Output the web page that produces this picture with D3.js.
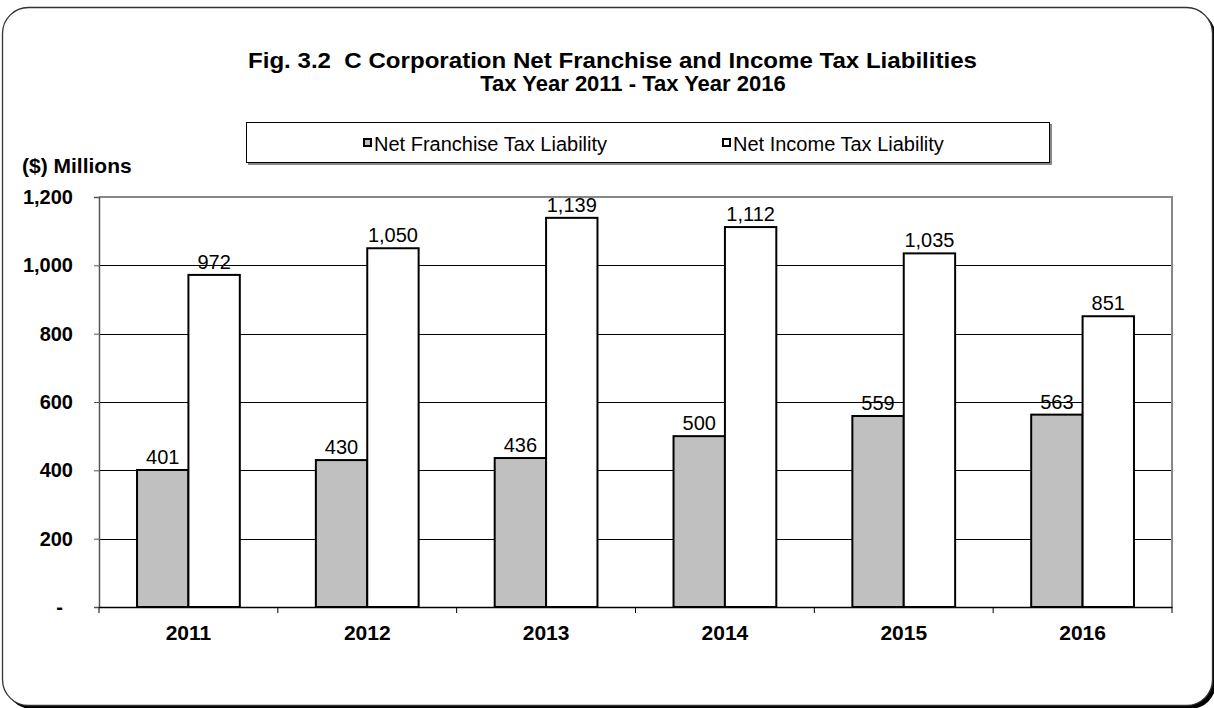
<!DOCTYPE html>
<html><head><meta charset="utf-8">
<script src="https://cdn.jsdelivr.net/npm/d3@7"></script>
<style>
html,body{margin:0;padding:0;background:#fff;}
svg{display:block;font-family:"Liberation Sans",Arial,sans-serif;}
</style></head>
<body>
<svg id="c" width="1214" height="708"></svg>
<script>
const years = ["2011","2012","2013","2014","2015","2016"];
const franchise = [401,430,436,500,559,563];
const income = [972,1050,1139,1112,1035,851];
const seriesNames = ["Net Franchise Tax Liability","Net Income Tax Liability"];
const seriesColors = ["#c0c0c0","#ffffff"];
const yTicks = [0,200,400,600,800,1000,1200];
const titleLines = ["Fig. 3.2  C Corporation Net Franchise and Income Tax Liabilities","Tax Year 2011 - Tax Year 2016"];

const FONT = "'Liberation Sans',Arial,sans-serif";
const svg = d3.select("#c");
// outer frame with shadow
svg.append("rect").attr("x",6).attr("y",11).attr("width",1210).attr("height",698).attr("rx",26)
  .attr("fill","#000");
svg.append("rect").attr("x",2.5).attr("y",7.5).attr("width",1210).attr("height",698).attr("rx",26)
  .attr("fill","#fff").attr("stroke","#333").attr("stroke-width",1.3);

// title
svg.append("text").attr("x",612.5).attr("y",68).attr("text-anchor","middle").attr("xml:space","preserve")
  .attr("font-weight","bold").attr("font-size",22.5).attr("textLength",729).attr("lengthAdjust","spacingAndGlyphs")
  .text(titleLines[0]);
svg.append("text").attr("x",633).attr("y",91).attr("text-anchor","middle")
  .attr("font-weight","bold").attr("font-size",22).text(titleLines[1]);

// legend
const lg = svg.append("g");
lg.append("rect").attr("x",248).attr("y",124).attr("width",804).attr("height",41).attr("fill","#888");
lg.append("rect").attr("x",246.5).attr("y",122.5).attr("width",803).attr("height",40).attr("fill","#fff").attr("stroke","#000").attr("stroke-width",1);
const legX = [363,722];
seriesNames.forEach((n,i)=>{
  lg.append("rect").attr("x",legX[i]+1).attr("y",139).attr("width",7).attr("height",7)
    .attr("fill",seriesColors[i]).attr("stroke","#000").attr("stroke-width",2);
  lg.append("text").attr("x",legX[i]+11).attr("y",151).attr("font-size",20).text(n);
});

// plot
const m = {l:99, r:1172, t:197, b:607};
const x0 = d3.scaleBand().domain(years).range([m.l,m.r]).paddingInner(0).paddingOuter(0);
const inner = d3.scaleBand().domain([0,1]).range([0,x0.bandwidth()]).paddingInner(0).paddingOuter(0.74);
const y = d3.scaleLinear().domain([0,1200]).range([m.b,m.t]);

svg.append("text").attr("x",22).attr("y",173).attr("font-weight","bold").attr("font-size",21).text("($) Millions");

// gridlines
svg.append("g").selectAll("line").data(yTicks.filter(d=>d>0 && d<1200)).join("line")
  .attr("x1",m.l).attr("x2",m.r).attr("y1",d=>Math.round(y(d))+0.5).attr("y2",d=>Math.round(y(d))+0.5)
  .attr("stroke","#000").attr("stroke-width",1);
// plot border (top/right gray)
svg.append("path").attr("d",`M${m.l},${m.t}H${m.r}V${m.b}`).attr("fill","none").attr("stroke","#888").attr("stroke-width",2);

// bars
const data = years.map((yr,i)=>({yr, vals:[franchise[i],income[i]]}));
const g = svg.append("g");
data.forEach(d=>{
  d.vals.forEach((v,j)=>{
    const bx = x0(d.yr)+inner(j);
    g.append("rect").attr("x",bx).attr("y",y(v)).attr("width",inner.bandwidth()).attr("height",y(0)-y(v))
      .attr("fill",seriesColors[j]).attr("stroke","#000").attr("stroke-width",2);
    g.append("text").attr("x",bx+inner.bandwidth()/2).attr("y",y(v)-6).attr("text-anchor","middle")
      .attr("font-size",20).text(d3.format(",")(v));
  });
});

// y axis
const yAxis = d3.axisLeft(y).tickValues(yTicks).tickSize(5).tickPadding(21)
  .tickFormat(d=> d===0 ? "-" : d3.format(",")(d));
const ya = svg.append("g").attr("transform",`translate(${m.l},0)`).call(yAxis);
ya.select(".domain").attr("stroke","#555").attr("stroke-width",1.5);
ya.selectAll("line").attr("stroke","#555");
ya.selectAll("text").attr("font-family",FONT).attr("font-size",20).attr("font-weight","bold").attr("fill","#000")
  .attr("dx",d=>d===0?-10:0);

// x axis
const xAxis = d3.axisBottom(x0).tickSize(0).tickPadding(18);
const xa = svg.append("g").attr("transform",`translate(0,${m.b})`).call(xAxis);
xa.select(".domain").attr("stroke","#000").attr("stroke-width",1.5);
xa.selectAll("text").attr("font-family",FONT).attr("font-size",21).attr("font-weight","bold").attr("fill","#000");
// category boundary ticks
svg.append("g").selectAll("line").data(years.concat(["end"])).join("line")
  .attr("x1",(d,i)=> i<years.length ? x0(d) : m.r).attr("x2",(d,i)=> i<years.length ? x0(d) : m.r)
  .attr("y1",m.b).attr("y2",m.b+6).attr("stroke","#000").attr("stroke-width",1);
</script>
</body></html>
